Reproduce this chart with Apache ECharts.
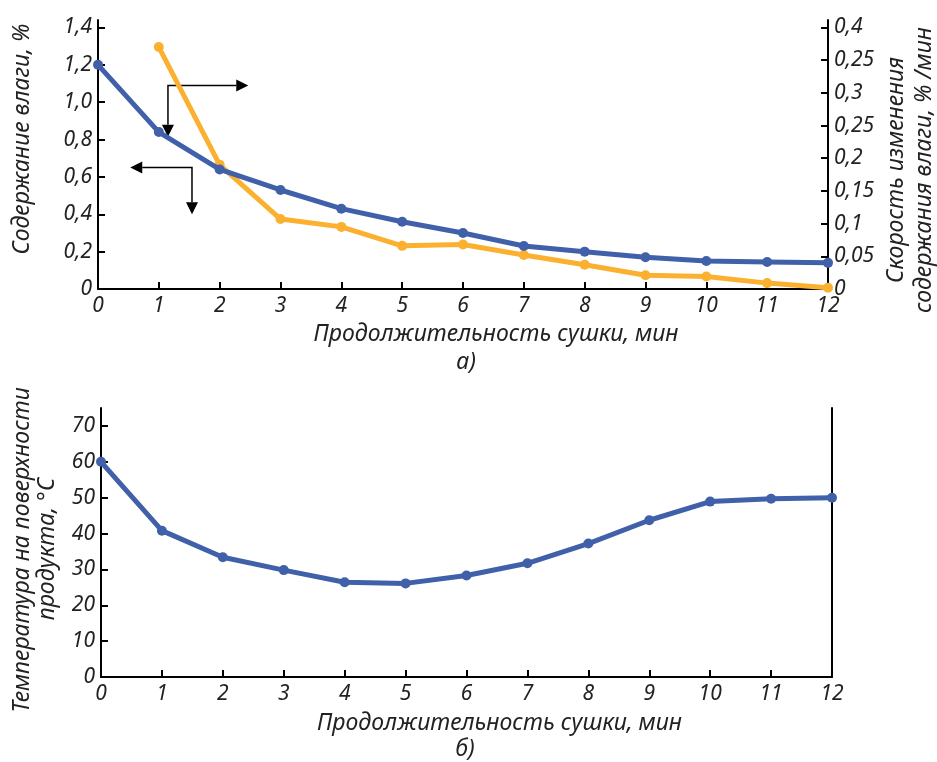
<!DOCTYPE html>
<html>
<head>
<meta charset="utf-8">
<script src="https://cdn.jsdelivr.net/npm/echarts@6/dist/echarts.min.js"></script>
<style>
  body { margin: 0; background: #fff; }
  #chart { width: 937px; height: 762px; }
</style>
</head>
<body>
<div id="chart"></div>
<script>
// время сушки, мин
var minutes = [0, 1, 2, 3, 4, 5, 6, 7, 8, 9, 10, 11, 12];
// содержание влаги, %
var moisture = [1.2, 0.84, 0.64, 0.53, 0.43, 0.36, 0.3, 0.23, 0.2, 0.17, 0.15, 0.145, 0.14];
// скорость изменения содержания влаги, %/мин (с 1-й минуты)
var rate = [null, 0.37, 0.19, 0.107, 0.095, 0.066, 0.068, 0.052, 0.037, 0.021, 0.019, 0.009, 0.002];
// температура на поверхности продукта, °C
var temperature = [60, 40.8, 33.4, 29.8, 26.4, 26.1, 28.3, 31.7, 37.2, 43.7, 48.9, 49.7, 50];

var leftTicks = [0, 0.2, 0.4, 0.6, 0.8, 1.0, 1.2, 1.4];
var leftLabels = ['0', '0,2', '0,4', '0,6', '0,8', '1,0', '1,2', '1,4'];
var rightTicks = [0, 0.05, 0.1, 0.15, 0.2, 0.25, 0.3, 0.35, 0.4];
var rightLabels = ['0', '0,05', '0,1', '0,15', '0,2', '0,25', '0,3', '0,25', '0,4'];
var tempTicks = [0, 10, 20, 30, 40, 50, 60, 70];

var blue = '#4060aa';
var orange = '#fbb030';
var ink = '#222';
var font = 'Noto Sans';

function pairs(ys) {
  return minutes.map(function (x, i) { return [x, ys[i]]; });
}

function xAxisOpt(grid) {
  return {
    type: 'value', gridIndex: grid, min: 0, max: 12, interval: 1,
    name: 'Продолжительность сушки, мин',
    nameLocation: 'middle', nameGap: grid === 0 ? 34 : 35,
    nameTextStyle: { fontFamily: font, fontStyle: 'italic', fontSize: 23, color: ink, padding: [0, 0, 0, 66] },
    axisLine: { lineStyle: { color: '#000', width: 2 } },
    axisTick: { inside: true, length: 7, lineStyle: { color: '#000', width: 2 } },
    axisLabel: { fontFamily: font, fontStyle: 'italic', fontSize: 21, color: ink, margin: 7 },
    splitLine: { show: false }
  };
}

function yAxisOpt(grid, pos, max, ticks, fmt, show) {
  return {
    type: 'value', gridIndex: grid, position: pos, min: 0, max: max,
    axisLine: { show: true, onZero: false, lineStyle: { color: '#000', width: 2 } },
    axisTick: { show: show, inside: true, length: 7, customValues: ticks, lineStyle: { color: '#000', width: 2 } },
    axisLabel: {
      show: show, customValues: ticks, formatter: fmt,
      fontFamily: font, fontStyle: 'italic', fontSize: 21, color: ink, margin: 6
    },
    splitLine: { show: false }
  };
}

var lineStyle = function (c) {
  return {
    symbol: 'circle', symbolSize: 10,
    lineStyle: { color: c, width: 5 },
    itemStyle: { color: c }
  };
};

var chart = echarts.init(document.getElementById('chart'));

var option = {
  animation: false,
  grid: [
    { left: 98, right: 109, top: 20, bottom: 473 },
    { left: 101, right: 105, top: 408, bottom: 85 }
  ],
  xAxis: [xAxisOpt(0), xAxisOpt(1)],
  yAxis: [
    yAxisOpt(0, 'left', 1.44, leftTicks, function (v) { return leftLabels[Math.round(v / 0.2)]; }, true),
    yAxisOpt(0, 'right', 0.4 * 1.44 / 1.4, rightTicks, function (v) { return rightLabels[Math.round(v / 0.05)]; }, true),
    yAxisOpt(1, 'left', 75, tempTicks, function (v) { return String(v); }, true),
    yAxisOpt(1, 'right', 75, [], null, false)
  ],
  series: [
    Object.assign({ type: 'line', xAxisIndex: 0, yAxisIndex: 0, data: pairs(moisture), z: 3 }, lineStyle(blue)),
    Object.assign({ type: 'line', xAxisIndex: 0, yAxisIndex: 1, data: pairs(rate), z: 2 }, lineStyle(orange)),
    Object.assign({ type: 'line', xAxisIndex: 1, yAxisIndex: 2, data: pairs(temperature) }, lineStyle(blue))
  ]
};
chart.setOption(option);

// подписи осей и обозначения рисунков
var txt = function (x, y, s, rot) {
  return {
    type: 'text', x: x, y: y, rotation: rot ? Math.PI / 2 : 0,
    style: {
      text: s, fill: ink, font: 'italic 23px "' + font + '"',
      textAlign: 'center', textVerticalAlign: 'middle'
    }
  };
};

// стрелки: угол, конец по горизонтали, конец по вертикали (в единицах левой оси)
var arrows = [
  { corner: [1.15, 1.09], hx: 2.47, vy: 0.815 },
  { corner: [1.545, 0.65], hx: 0.53, vy: 0.40 }
];

var graphics = [
  txt(22, 139, 'Содержание влаги, %', true),
  txt(896, 170, 'Скорость изменения', true),
  txt(924, 170, 'содержания влаги, % /мин', true),
  txt(466, 362, 'а)'),
  txt(22, 550, 'Температура на поверхности', true),
  txt(47, 549, 'продукта, °С', true),
  txt(465, 749, 'б)')
];

arrows.forEach(function (a) {
  var c = chart.convertToPixel({ gridIndex: 0 }, a.corner);
  var h = chart.convertToPixel({ gridIndex: 0 }, [a.hx, a.corner[1]]);
  var v = chart.convertToPixel({ gridIndex: 0 }, [a.corner[0], a.vy]);
  var dir = h[0] > c[0] ? 1 : -1;
  var L = 12, W = 6;
  graphics.push({
    type: 'polyline', shape: { points: [[h[0] - dir * L, h[1]], c, [v[0], v[1] - L]] },
    style: { stroke: '#000', lineWidth: 1.5, fill: null }
  });
  graphics.push({
    type: 'polygon', shape: { points: [h, [h[0] - dir * L, h[1] - W], [h[0] - dir * L, h[1] + W]] },
    style: { fill: '#000' }
  });
  graphics.push({
    type: 'polygon', shape: { points: [v, [v[0] - W, v[1] - L], [v[0] + W, v[1] - L]] },
    style: { fill: '#000' }
  });
});

chart.setOption({ graphic: graphics });
</script>
</body>
</html>
